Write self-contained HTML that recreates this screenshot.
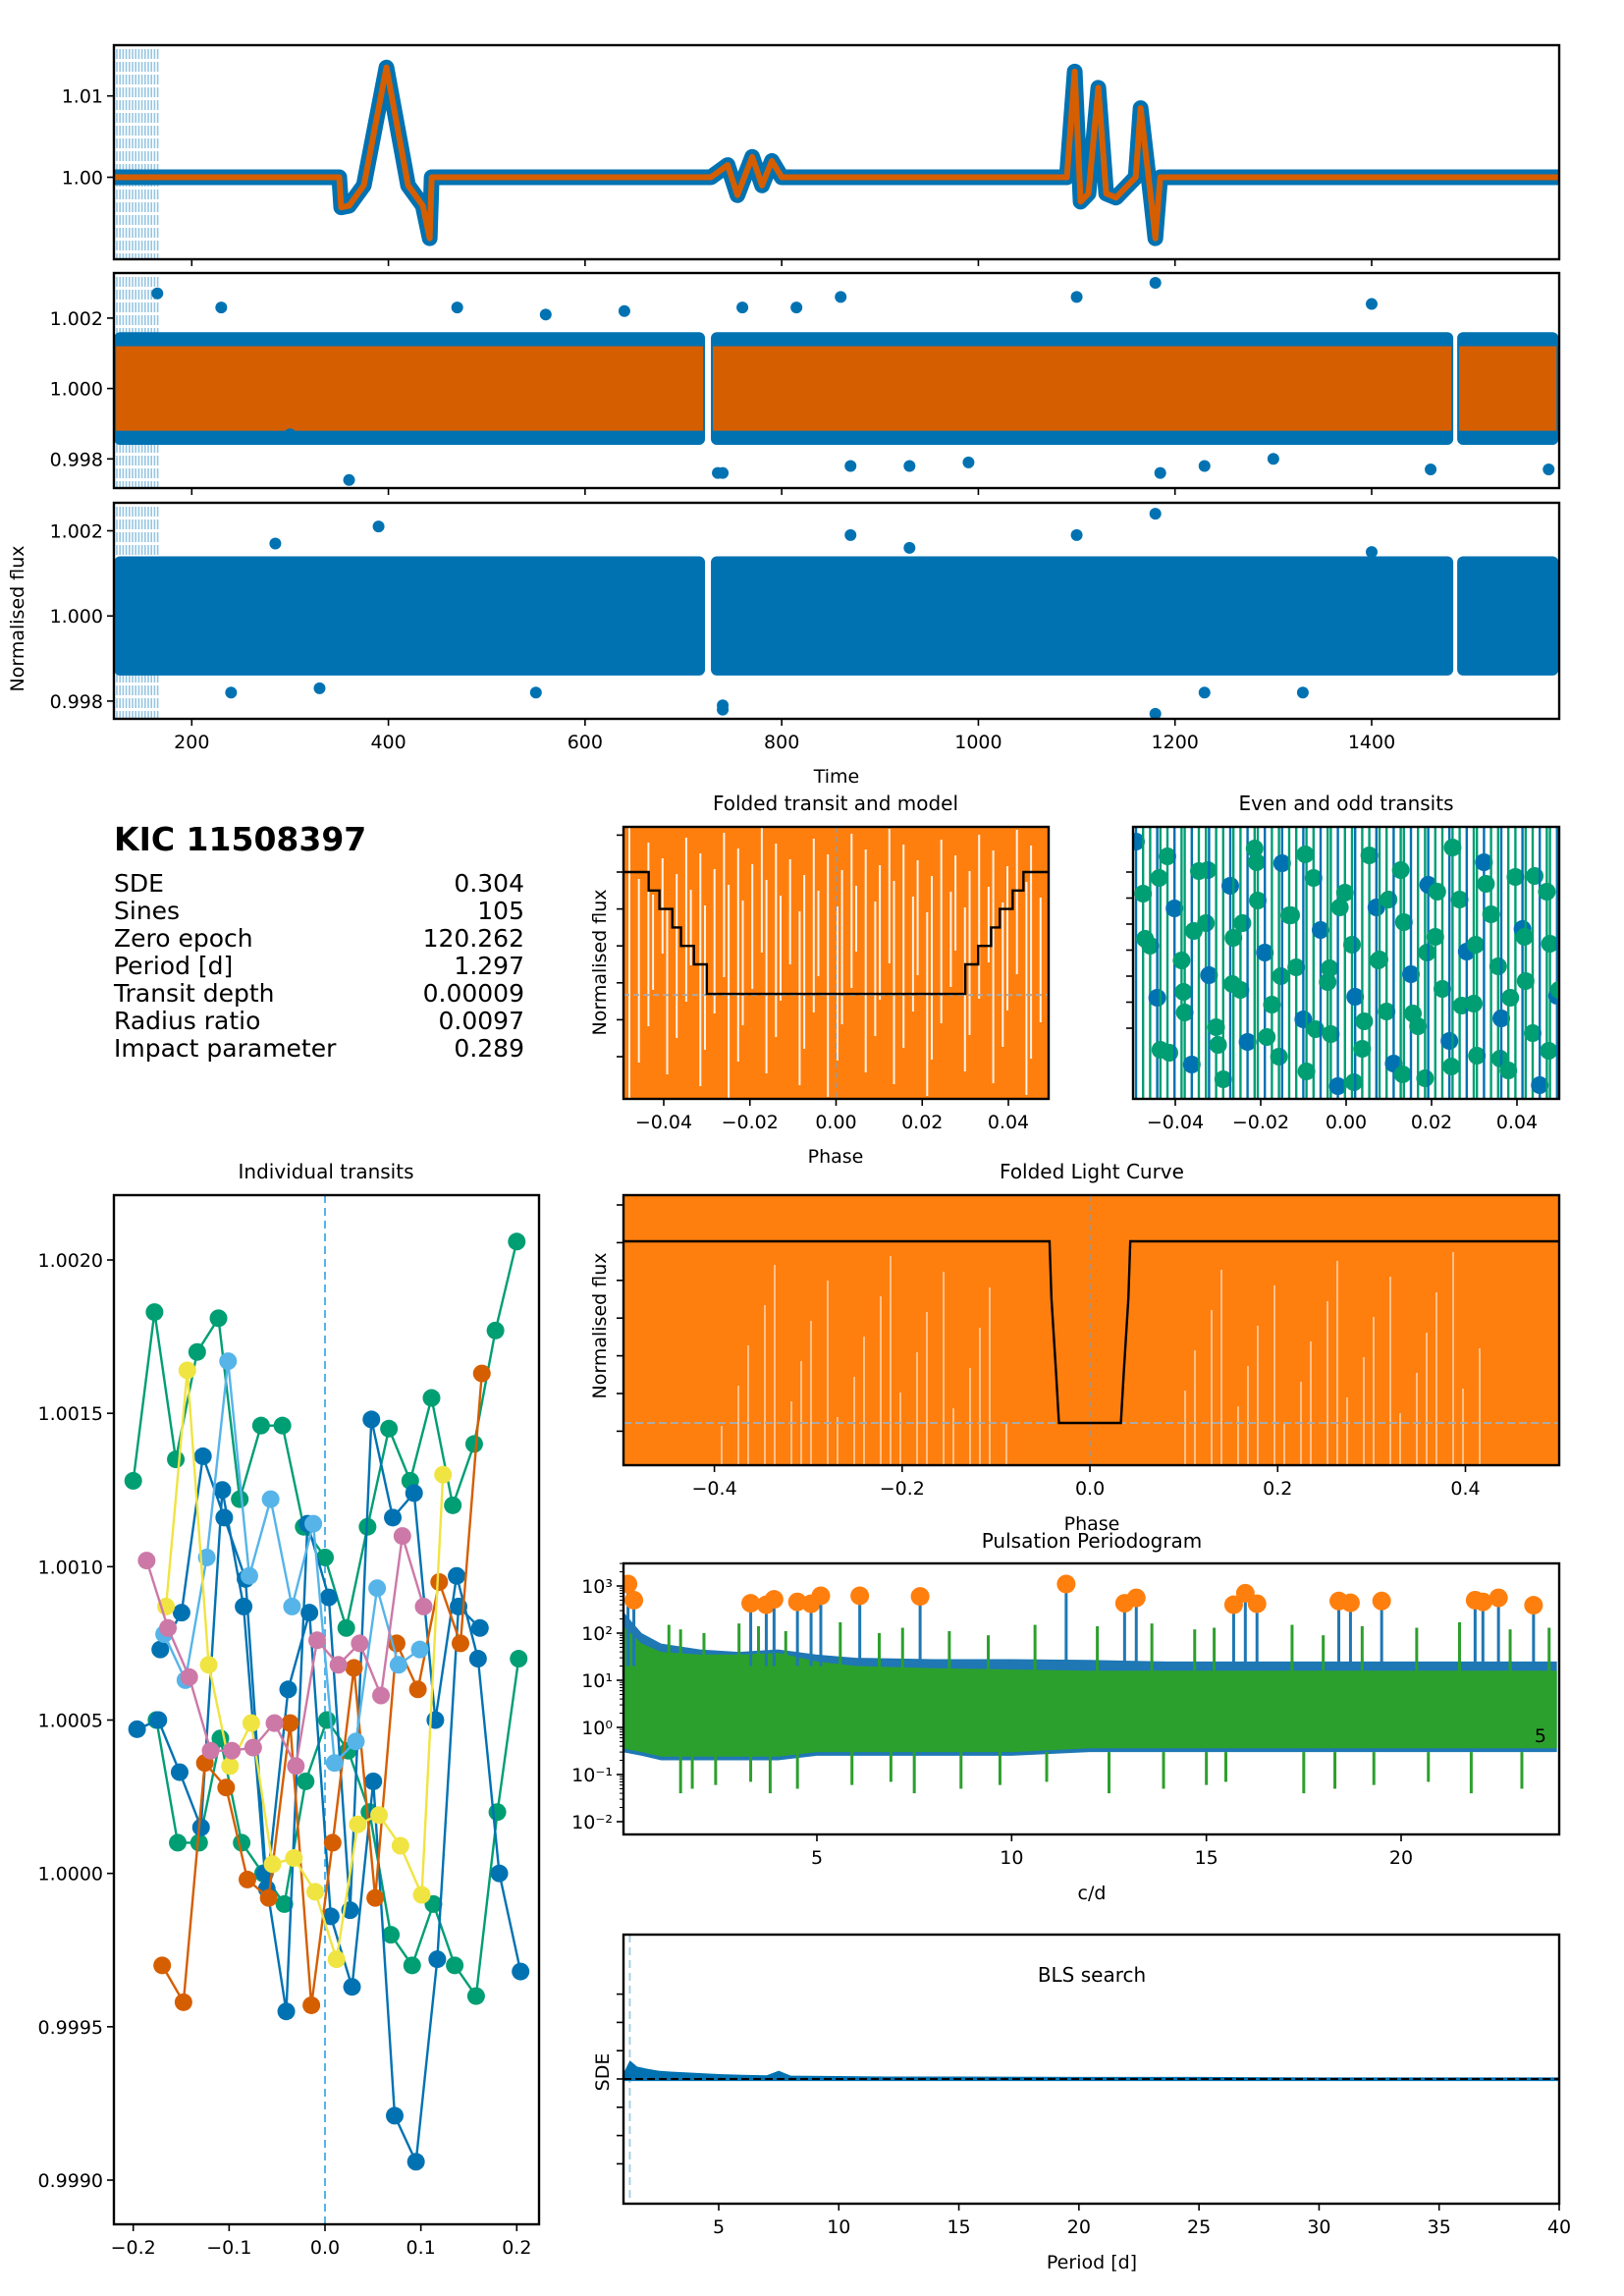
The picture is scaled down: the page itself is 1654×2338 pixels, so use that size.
<!DOCTYPE html>
<html><head><meta charset="utf-8">
<style>
html,body{margin:0;padding:0;background:#fff;}
svg{display:block;font-family:"DejaVu Sans","Liberation Sans",sans-serif;}
</style></head>
<body>
<svg id="fig" width="1654" height="2338" viewBox="0 0 1654 2338" xmlns="http://www.w3.org/2000/svg">
<rect width="1654" height="2338" fill="#fff"/>
<g font-size="25">
<text x="116" y="866" font-size="33" font-weight="bold">KIC 11508397</text>
<text x="116" y="908">SDE</text><text x="534" y="908" text-anchor="end">0.304</text>
<text x="116" y="936">Sines</text><text x="534" y="936" text-anchor="end">105</text>
<text x="116" y="964">Zero epoch</text><text x="534" y="964" text-anchor="end">120.262</text>
<text x="116" y="992">Period [d]</text><text x="534" y="992" text-anchor="end">1.297</text>
<text x="116" y="1020">Transit depth</text><text x="534" y="1020" text-anchor="end">0.00009</text>
<text x="116" y="1048">Radius ratio</text><text x="534" y="1048" text-anchor="end">0.0097</text>
<text x="116" y="1076">Impact parameter</text><text x="534" y="1076" text-anchor="end">0.289</text>
</g>
</svg>
<script>
const NS="http://www.w3.org/2000/svg";
const fig=document.getElementById('fig');
// ---------- DATA ----------
const lcTrendT=[121,350,352,360,375,398,420,435,442,444,720,722,728,745,755,770,780,790,800,1090,1098,1104,1112,1122,1130,1140,1160,1165,1175,1180,1185,1483,1487,1590];
const lcTrendF=[1.0,1.0,0.9963,0.9965,0.999,1.0135,0.999,0.9965,0.9925,1.0,1.0,1.0,1.0,1.0015,0.9978,1.0025,0.999,1.002,1.0,1.0,1.013,0.997,0.998,1.011,0.998,0.9975,1.0,1.0085,0.998,0.9925,1.0,1.0,1.0,1.0];
const segStart=[121,728,1487];
const segEnd=[722,1483,1590];
const outT2=[165,230,300,360,470,560,640,735,740,760,815,860,870,930,990,1100,1180,1185,1230,1300,1400,1460,1580];
const outF2=[1.0027,1.0023,0.9987,0.9974,1.0023,1.0021,1.0022,0.9976,0.9976,1.0023,1.0023,1.0026,0.9978,0.9978,0.9979,1.0026,1.0030,0.9976,0.9978,0.9980,1.0024,0.9977,0.9977];
const outT3=[240,285,330,390,550,740,740,870,930,1100,1180,1180,1230,1330,1400];
const outF3=[0.9982,1.0017,0.9983,1.0021,0.9982,0.9979,0.9978,1.0019,1.0016,1.0019,1.0024,0.9977,0.9982,0.9982,1.0015];
const ftModelP=[-0.05,-0.0435,-0.0435,-0.041,-0.041,-0.038,-0.038,-0.036,-0.036,-0.033,-0.033,-0.030,-0.030,0.030,0.030,0.033,0.033,0.036,0.036,0.038,0.038,0.041,0.041,0.0435,0.0435,0.05];
const ftModelF=[6,6,5.5,5.5,5,5,4.5,4.5,4,4,3.5,3.5,2.7,2.7,3.5,3.5,4,4,4.5,4.5,5,5,5.5,5.5,6,6];
const flcModelP=[-0.5,-0.043,-0.041,-0.036,-0.033,0.033,0.036,0.041,0.043,0.5];
const flcModelF=[6,6,4.5,2.5,1.2,1.2,2.5,4.5,6,6];
const itPhase=[-0.2,-0.1778,-0.1556,-0.1333,-0.1111,-0.0889,-0.0667,-0.0444,-0.0222,0,0.0222,0.0444,0.0667,0.0889,0.1111,0.1333,0.1556,0.1778,0.2];
const itGreen1=[1.00128,1.00183,1.00135,1.0017,1.00181,1.00122,1.00146,1.00146,1.00113,1.00103,1.0008,1.00113,1.00145,1.00128,1.00155,1.0012,1.0014,1.00177,1.00206];
const itGreen2=[null,1.0005,1.0001,1.0001,1.00044,1.0001,1.0,0.9999,1.0003,1.0005,1.0004,1.0002,0.9998,0.9997,0.9999,0.9997,0.9996,1.0002,1.0007];
const itBlue1=[1.00047,1.0005,1.00033,1.00015,1.00125,1.00087,1.0,0.99955,1.00114,1.0009,0.99988,1.00148,1.00116,1.00124,1.0005,1.00097,1.0007,1.0,0.99968];
const itBlue2=[null,1.00073,1.00085,1.00136,1.00116,1.00096,0.99995,1.0006,1.00085,0.99986,0.99963,1.0003,0.99921,0.99906,0.99972,1.00087,1.0008,null,null];
const itOrange=[null,0.9997,0.99958,1.00036,1.00028,0.99998,0.99992,1.00049,0.99957,1.0001,1.00067,0.99992,1.00075,1.0006,1.00095,1.00075,1.00163,null,null];
const itSky=[null,1.00078,1.00063,1.00103,1.00167,1.00097,1.00122,1.00087,1.00114,1.00036,1.00043,1.00093,1.00068,1.00073,null,null,null,null,null];
const itYellow=[null,1.00087,1.00164,1.00068,1.00035,1.00049,1.00003,1.00005,0.99994,0.99972,1.00016,1.00019,1.00009,0.99993,1.0013,null,null,null,null];
const itPink=[1.00102,1.0008,1.00064,1.0004,1.0004,1.00041,1.00049,1.00035,1.00076,1.00068,1.00075,1.00058,1.0011,1.00087,null,null,null,null,null];
const pgEnvF=[0,0.5,1,2,3,4,5,6,8,10,12,14,16,18,20,22,24];
const pgBlueHi=[300,100,60,45,40,45,35,30,28,28,27,25,25,25,25,25,25];
const pgGreenHi=[150,60,40,35,35,38,25,20,18,17,16,16,16,16,16,16,16];
const pgGreenLo=[0.3,0.25,0.2,0.2,0.2,0.2,0.25,0.25,0.25,0.25,0.3,0.3,0.3,0.3,0.3,0.3,0.3];
const pgPeakF=[0.15,0.3,3.3,3.7,3.9,4.5,4.85,5.1,6.1,7.65,11.4,12.9,13.2,15.7,16.0,16.3,18.4,18.7,19.5,21.9,22.1,22.5,23.4];
const pgPeakA=[1100,500,430,400,520,460,420,620,620,600,1100,430,560,400,700,420,480,440,480,500,460,560,390];
const pgSpikeF=[1.2,1.5,2.1,3.0,3.5,4.2,5.6,6.6,7.2,8.4,9.4,10.6,12.2,13.6,14.7,15.2,17.2,18.0,19.0,20.4,21.5,22.8,23.8];
const pgSpikeA=[150,120,100,160,140,110,170,100,130,110,90,150,140,160,120,130,150,90,140,130,170,120,130];
const blsP=[1.0,1.3,1.6,2,2.5,3,4,5,6,7,7.5,8,10,12,15,20,25,30,35,40];
const blsS=[0.1,0.45,0.3,0.25,0.2,0.18,0.15,0.12,0.1,0.09,0.2,0.08,0.07,0.06,0.06,0.05,0.05,0.04,0.04,0.04];

// ---------- helpers ----------
function el(tag,attrs,parent){const e=document.createElementNS(NS,tag);for(const k in attrs)e.setAttribute(k,attrs[k]);(parent||fig).appendChild(e);return e;}
function lin(d0,p0,d1,p1){return v=>p0+(v-d0)*(p1-p0)/(d1-d0);}
function axesBox(g,x0,y0,x1,y1){el('rect',{x:x0,y:y0,width:x1-x0,height:y1-y0,fill:'none',stroke:'#000','stroke-width':2.4},g);}
function clip(id,x0,y0,x1,y1){const c=el('clipPath',{id:id});el('rect',{x:x0,y:y0,width:x1-x0,height:y1-y0},c);return 'url(#'+id+')';}
function xtick(g,x,y,label){el('line',{x1:x,y1:y,x2:x,y2:y+7,stroke:'#000','stroke-width':1.6},g);if(label!==null){const t=el('text',{x:x,y:y+30,'text-anchor':'middle','font-size':19},g);t.textContent=label;}}
function ytick(g,x,y,label){el('line',{x1:x-7,y1:y,x2:x,y2:y,stroke:'#000','stroke-width':1.6},g);if(label!==null){const t=el('text',{x:x-11,y:y+7,'text-anchor':'end','font-size':19},g);t.textContent=label;}}
function txt(g,x,y,s,size,anchor,rot){const a={x:x,y:y,'font-size':size,'text-anchor':anchor||'middle'};if(rot)a.transform='rotate(-90 '+x+' '+y+')';const t=el('text',a,g);t.textContent=s;return t;}

// ---------- light curve panels ----------
const tx=lin(200,195.3,1400,1397);
const LX0=116,LX1=1588;
const panels=[{y0:46,y1:264,fy:lin(1.00,180.5,1.01,97.7),ticks:[[1.00,'1.00'],[1.01,'1.01']]},
 {y0:278,y1:497,fy:lin(1.000,395.6,1.002,323.9),ticks:[[0.998,'0.998'],[1.000,'1.000'],[1.002,'1.002']]},
 {y0:512,y1:732,fy:lin(1.000,627.2,1.002,540.5),ticks:[[0.998,'0.998'],[1.000,'1.000'],[1.002,'1.002']]}];
panels.forEach((P,i)=>{
  const g=el('g',{});
  
  
  const cp=clip('clp'+i,LX0,P.y0,LX1,P.y1);
  const inner=el('g',{'clip-path':cp},g);
  for(let k=0;k<14;k++){const l=el('line',{x1:LX0+3+k*3.2,y1:P.y0+4,x2:LX0+3+k*3.2,y2:P.y1,stroke:'#6baed6','stroke-width':1.6,'stroke-dasharray':'10 3',opacity:0.7},inner);}
  if(i===0){
    const pts=lcTrendT.map((t,j)=>tx(t)+','+P.fy(lcTrendF[j])).join(' ');
    const b=el('polyline',{points:pts,fill:'none',stroke:'#0072b2','stroke-width':16,'stroke-linejoin':'round','stroke-linecap':'round'},inner);
    
    const o=el('polyline',{points:pts,fill:'none',stroke:'#d55e00','stroke-width':6,'stroke-linejoin':'round'},inner);
    
  } else {
    const bw=i===1?0.0016:0.0014;
    segStart.forEach((s,j)=>{
      const r=el('rect',{x:tx(s),y:P.fy(1+bw),width:tx(segEnd[j])-tx(s),height:P.fy(1-bw)-P.fy(1+bw),fill:'#0072b2',rx:6},inner);
      
      if(i===1){const o=el('rect',{x:tx(s)+2,y:P.fy(1.0012),width:tx(segEnd[j])-tx(s)-4,height:P.fy(0.9988)-P.fy(1.0012),fill:'#d55e00'},inner);
        }
    });
    const OT=i===1?outT2:outT3,OF=i===1?outF2:outF3;
    OT.forEach((t,j)=>{const c=el('circle',{cx:tx(t),cy:P.fy(OF[j]),r:6,fill:'#0072b2'},inner);});
  }
  axesBox(g,LX0,P.y0,LX1,P.y1);
  P.ticks.forEach(tk=>ytick(g,LX0,P.fy(tk[0]),tk[1]));
  [200,400,600,800,1000,1200,1400].forEach(t=>xtick(g,tx(t),P.y1,i===2?String(t):null));
});
txt(fig,852,797,'Time',19);
txt(fig,24,630,'Normalised flux',19,'middle',true);

// ---------- Folded transit and model ----------
(function(){
  const g=el('g',{});
  const x0=635,x1=1068,y0=842,y1=1119;
  const px=lin(-0.04,676,0.04,1027), fy=lin(6,888,1,1076);
  const inner=el('g',{'clip-path':clip('cft',x0,y0,x1,y1)},g);
  el('rect',{x:x0,y:y0,width:x1-x0,height:y1-y0,fill:'#ff7f0e'},inner);
  for(let k=0;k<55;k++){const xx=x0+6+k*7.7+((k*7)%5);el('line',{x1:xx,y1:y0+((k*53)%90),x2:xx,y2:y1-((k*37)%160),stroke:'#fff','stroke-width':2,opacity:0.9},inner);}
  el('line',{x1:px(0),y1:y0,x2:px(0),y2:y1,stroke:'#999','stroke-dasharray':'6 4','stroke-width':1.5},inner);
  el('line',{x1:x0,y1:fy(2.7)+1,x2:x1,y2:fy(2.7)+1,stroke:'#aaa','stroke-dasharray':'6 4','stroke-width':2},inner);
  const m=el('polyline',{points:ftModelP.map((p,j)=>px(p)+','+fy(ftModelF[j])).join(' '),fill:'none',stroke:'#000','stroke-width':2.4},inner);
  
  axesBox(g,x0,y0,x1,y1);
  [-0.04,-0.02,0,0.02,0.04].forEach(p=>xtick(g,px(p),y1,(p<0?'\u2212':'')+Math.abs(p).toFixed(2)));
  [1,2,3,4,5,6,7].forEach(k=>ytick(g,x0,fy(k),null));
  txt(g,851,825,'Folded transit and model',20);
  txt(g,851,1184,'Phase',19);
  txt(g,617,980,'Normalised flux',19,'middle',true);
})();

// ---------- Even and odd ----------
(function(){
  const g=el('g',{});
  const x0=1154,x1=1588,y0=842,y1=1119;
  const px=lin(-0.04,1197,0.04,1545);
  const inner=el('g',{'clip-path':clip('ceo',x0,y0,x1,y1)},g);
  for(let k=0;k<70;k++){
    const xx=x0+3+k*6.2+((k*5)%4);const col=(k%3===0)?'#0072b2':'#009e73';
    el('line',{x1:xx,y1:y0,x2:xx,y2:y1,stroke:col,'stroke-width':2.4},inner);
    el('circle',{cx:xx,cy:y0+15+((k*53)%250),r:9,fill:col},inner);
    if(k%2===1){el('circle',{cx:xx+2,cy:y0+25+((k*89)%240),r:9,fill:'#009e73'},inner);}
  }
  axesBox(g,x0,y0,x1,y1);
  [-0.04,-0.02,0,0.02,0.04].forEach(p=>xtick(g,px(p),y1,(p<0?'\u2212':'')+Math.abs(p).toFixed(2)));
  for(let k=0;k<7;k++)ytick(g,x0,888+k*26.5,null);
  txt(g,1371,825,'Even and odd transits',20);
})();

// ---------- Individual transits ----------
(function(){
  const g=el('g',{});
  const x0=116,x1=549,y0=1217,y1=2265;
  const px=lin(-0.2,135.7,0.2,526.3), fy=lin(1.002,1283,0.999,2220);
  const inner=el('g',{'clip-path':clip('cit',x0,y0,x1,y1)},g);
  el('line',{x1:px(0),y1:y0,x2:px(0),y2:y1,stroke:'#56b4e9','stroke-width':2,'stroke-dasharray':'8 5'},inner);
  const series=[[itGreen1,'#009e73'],[itGreen2,'#009e73'],[itBlue1,'#0072b2'],[itBlue2,'#0072b2'],[itOrange,'#d55e00'],[itSky,'#56b4e9'],[itYellow,'#f0e442'],[itPink,'#cc79a7']];
  series.forEach((s,si)=>{
    const sg=el('g',{},inner);
    let pts=[];s[0].forEach((v,j)=>{if(v!==null)pts.push(px(itPhase[j]+si*0.002)+','+fy(v));});
    el('polyline',{points:pts.join(' '),fill:'none',stroke:s[1],'stroke-width':2.4},sg);
    s[0].forEach((v,j)=>{if(v!==null){const c=el('circle',{cx:px(itPhase[j]+si*0.002),cy:fy(v),r:9,fill:s[1]},sg);}});
  });
  axesBox(g,x0,y0,x1,y1);
  [[-0.2,'\u22120.2'],[-0.1,'\u22120.1'],[0,'0.0'],[0.1,'0.1'],[0.2,'0.2']].forEach(t=>xtick(g,px(t[0]),y1,t[1]));
  [[0.999,'0.9990'],[0.9995,'0.9995'],[1.0,'1.0000'],[1.0005,'1.0005'],[1.001,'1.0010'],[1.0015,'1.0015'],[1.002,'1.0020']].forEach(t=>ytick(g,x0,fy(t[0]),t[1]));
  txt(g,332,1200,'Individual transits',20);
})();

// ---------- Folded light curve ----------
(function(){
  const g=el('g',{});
  const x0=635,x1=1588,y0=1217,y1=1492;
  const px=lin(-0.4,727.6,0.4,1492.5), fy=lin(6,1264,1.2,1449);
  const inner=el('g',{'clip-path':clip('cflc',x0,y0,x1,y1)},g);
  el('rect',{x:x0,y:y0,width:x1-x0,height:y1-y0,fill:'#ff7f0e'},inner);
  for(let k=0;k<60;k++){const xx=x0+100+k*13+((k*11)%7);if(Math.abs(xx-1112)<80)continue;el('line',{x1:xx,y1:y1,x2:xx,y2:y1-40-((k*41)%180),stroke:'#fff','stroke-width':1.2,opacity:0.85},inner);}
  el('line',{x1:px(0),y1:y0,x2:px(0),y2:y1,stroke:'#999','stroke-dasharray':'6 4','stroke-width':1.5},inner);
  el('line',{x1:x0,y1:fy(1.2),x2:x1,y2:fy(1.2),stroke:'#aaa','stroke-dasharray':'8 4','stroke-width':2},inner);
  const m=el('polyline',{points:flcModelP.map((p,j)=>px(p)+','+fy(flcModelF[j])).join(' '),fill:'none',stroke:'#000','stroke-width':2.4},inner);
  
  axesBox(g,x0,y0,x1,y1);
  [[-0.4,'\u22120.4'],[-0.2,'\u22120.2'],[0,'0.0'],[0.2,'0.2'],[0.4,'0.4']].forEach(t=>xtick(g,px(t[0]),y1,t[1]));
  for(let k=0;k<7;k++)ytick(g,x0,1227+k*38.4,null);
  txt(g,1112,1200,'Folded Light Curve',20);
  txt(g,1112,1558,'Phase',19);
  txt(g,617,1350,'Normalised flux',19,'middle',true);
})();

// ---------- Periodogram ----------
(function(){
  const g=el('g',{});
  const x0=635,x1=1588,y0=1592,y1=1868;
  const px=lin(5,832,20,1427); const ly=lin(3,1615,-2,1855); const fy=v=>ly(Math.log10(v));
  const inner=el('g',{'clip-path':clip('cpg',x0,y0,x1,y1)},g);
  const up=pgEnvF.map((f,j)=>px(f)+','+fy(pgBlueHi[j])), lo=pgEnvF.map((f,j)=>px(f)+','+fy(pgGreenLo[j])).reverse();
  const bb=el('polygon',{points:up.concat(lo).join(' '),fill:'#1f77b4'},inner);
  const gu=pgEnvF.map((f,j)=>px(f)+','+fy(pgGreenHi[j])), gl=pgEnvF.map((f,j)=>px(f)+','+fy(pgGreenLo[j]*1.2)).reverse();
  const gg=el('polygon',{points:gu.concat(gl).join(' '),fill:'#2ca02c'},inner);
  pgSpikeF.forEach((f,j)=>{el('line',{x1:px(f),y1:fy(pgSpikeA[j]),x2:px(f),y2:fy(10),stroke:'#2ca02c','stroke-width':3},inner);el('line',{x1:px(f+0.3),y1:fy(0.3),x2:px(f+0.3),y2:fy(0.04+0.01*(j%4)),stroke:'#2ca02c','stroke-width':3},inner);});
  pgPeakF.forEach((f,j)=>{
    el('line',{x1:px(f),y1:fy(pgPeakA[j]),x2:px(f),y2:fy(20),stroke:'#1f77b4','stroke-width':3},inner);
    const c=el('circle',{cx:px(f),cy:fy(pgPeakA[j]),r:9.5,fill:'#ff7f0e'},inner);
    
  });
  txt(inner,1575,1774,'5',19,'end');
  axesBox(g,x0,y0,x1,y1);
  [5,10,15,20].forEach(f=>xtick(g,px(f),y1,String(f)));
  const sup=['\u207B\u00B2','\u207B\u00B9','\u2070','\u00B9','\u00B2','\u00B3'];
  [-2,-1,0,1,2,3].forEach((e,j)=>{ytick(g,x0,ly(e),'10'+sup[j]);for(let m=2;m<10;m++){const yy=ly(e+Math.log10(m));if(yy>y0&&yy<y1)el('line',{x1:x0-4,y1:yy,x2:x0,y2:yy,stroke:'#000','stroke-width':1},g);}});
  txt(g,1112,1576,'Pulsation Periodogram',20);
  txt(g,1112,1934,'c/d',19);
})();

// ---------- BLS ----------
(function(){
  const g=el('g',{});
  const x0=635,x1=1588,y0=1970,y1=2244;
  const px=lin(5,732,40,1588); const fy=lin(0,2117,1,2075);
  const inner=el('g',{'clip-path':clip('cbls',x0,y0,x1,y1)},g);
  el('line',{x1:px(1.297),y1:y0,x2:px(1.297),y2:y1,stroke:'#a6cee3','stroke-width':2,'stroke-dasharray':'8 5'},inner);
  const top=blsP.map((p,j)=>px(p)+','+fy(blsS[j])), bot=blsP.map(p=>px(p)+','+fy(-0.05)).reverse();
  const s=el('polygon',{points:top.concat(bot).join(' '),fill:'#0072b2'},inner);
  el('line',{x1:x0,y1:fy(0),x2:x1,y2:fy(0),stroke:'#000','stroke-width':2,'stroke-dasharray':'8 4'},inner);
  axesBox(g,x0,y0,x1,y1);
  [5,10,15,20,25,30,35,40].forEach(p=>xtick(g,px(p),y1,String(p)));
  for(let k=-3;k<=3;k++)ytick(g,x0,2117+k*28.8,null);
  txt(g,1112,2018,'BLS search',20);
  txt(g,1112,2310,'Period [d]',19);
  txt(g,620,2110,'SDE',19,'middle',true);
})();
</script>
</body></html>
